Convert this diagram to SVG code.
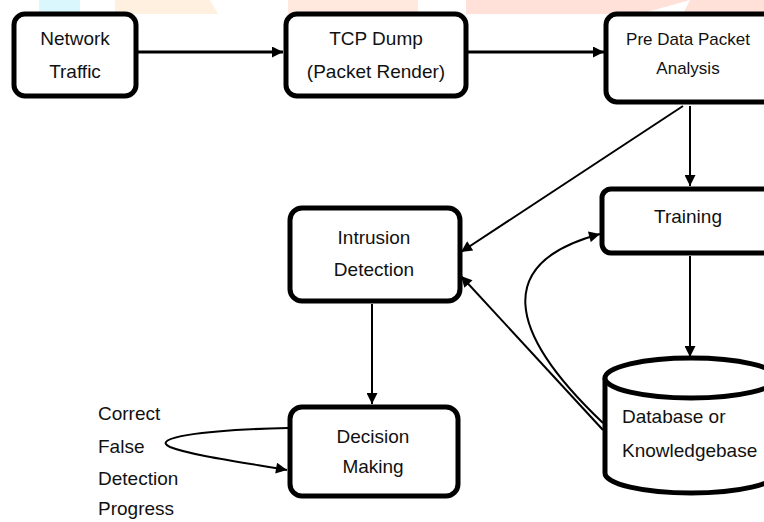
<svg xmlns="http://www.w3.org/2000/svg" width="764" height="522" viewBox="0 0 764 522">
<style>
.box{fill:#fff;stroke:#000;stroke-width:5}
.t{font-family:"Liberation Sans",Arial,sans-serif;font-size:19px;fill:#111;text-anchor:middle}
.l{font-family:"Liberation Sans",Arial,sans-serif;font-size:19px;fill:#111}
.c{fill:none;stroke:#000;stroke-width:2}
.c3{fill:none;stroke:#000;stroke-width:3}
</style>
<defs>
<marker id="ah" viewBox="0 0 10 10" refX="10" refY="5" markerWidth="13" markerHeight="11" markerUnits="userSpaceOnUse" orient="auto">
<path d="M0,0 L10,5 L0,10 z" fill="#000"/>
</marker>
</defs>
<rect width="764" height="522" fill="#fff"/>
<g id="watermark">
<rect x="39" y="0" width="41" height="14" fill="#d9f7fd"/>
<polygon points="115,0 210,0 218,14 115,14" fill="#fff0e0"/>
<rect x="288" y="0" width="130" height="14" fill="#ffe9de"/>
<polygon points="466,0 764,0 764,14 683,14 690,0 640,14 466,14" fill="#ffe1da"/>
</g>
<g id="connectors">
<line class="c3" x1="137" y1="52" x2="283" y2="52" marker-end="url(#ah)"/>
<line class="c3" x1="468" y1="52" x2="604" y2="52" marker-end="url(#ah)"/>
<line class="c" x1="690" y1="106" x2="690" y2="186" marker-end="url(#ah)"/>
<line class="c" x1="683" y1="106" x2="461" y2="252" marker-end="url(#ah)"/>
<line class="c" x1="690" y1="256" x2="690" y2="357" marker-end="url(#ah)"/>
<line class="c" x1="603" y1="430" x2="461" y2="276" marker-end="url(#ah)"/>
<path class="c" d="M603,423 C505,330 495,262 600,234" marker-end="url(#ah)"/>
<line class="c" x1="372" y1="304" x2="372" y2="404" marker-end="url(#ah)"/>
<path class="c" d="M288,428 C200,430 150,438 170,447 C190,455 240,462 287,470" marker-end="url(#ah)"/>
</g>
<g id="network-traffic">
<rect class="box" x="14" y="14" width="122" height="82" rx="11"/>
<text class="t" x="75" y="45">Network</text>
<text class="t" x="75" y="78">Traffic</text>
</g>
<g id="tcp-dump">
<rect class="box" x="286" y="14" width="180" height="82" rx="11"/>
<text class="t" x="376" y="45">TCP Dump</text>
<text class="t" x="376" y="78">(Packet Render)</text>
</g>
<g id="pre-data">
<rect class="box" x="606" y="14" width="180" height="88" rx="11"/>
<text class="t" x="688" y="45" style="font-size:17px">Pre Data Packet</text>
<text class="t" x="688" y="74" style="font-size:17px">Analysis</text>
</g>
<g id="training">
<rect class="box" x="602" y="189" width="184" height="64" rx="9"/>
<text class="t" x="688" y="223">Training</text>
</g>
<g id="intrusion-detection">
<rect class="box" x="290" y="208" width="170" height="93" rx="12"/>
<text class="t" x="374" y="244">Intrusion</text>
<text class="t" x="374" y="276">Detection</text>
</g>
<g id="decision-making">
<rect class="box" x="290" y="407" width="168" height="89" rx="12"/>
<text class="t" x="373" y="443">Decision</text>
<text class="t" x="373" y="473">Making</text>
</g>
<g id="database">
<path class="box" d="M605,378 L605,473 A86,20 0 0 0 777,473 L777,378"/>
<ellipse class="box" cx="691" cy="378" rx="86" ry="20"/>
<text class="l" x="622" y="423">Database or</text>
<text class="l" x="622" y="457">Knowledgebase</text>
</g>
<g id="labels">
<text class="l" x="98" y="420">Correct</text>
<text class="l" x="98" y="453">False</text>
<text class="l" x="98" y="485">Detection</text>
<text class="l" x="98" y="515">Progress</text>
</g>
</svg>
